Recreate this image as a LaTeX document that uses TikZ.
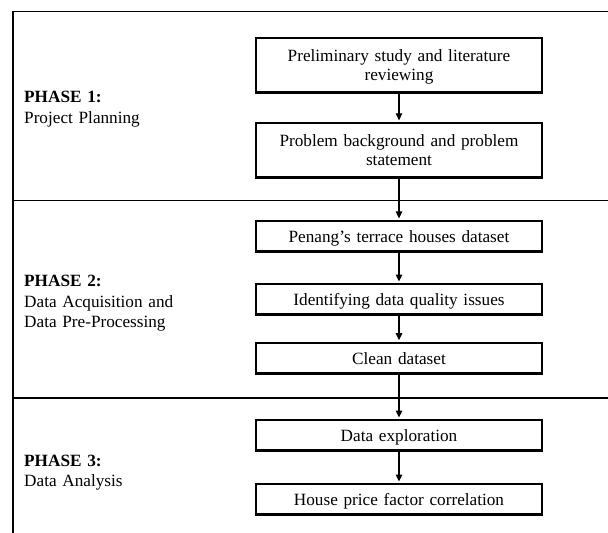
\documentclass[tikz,border=0pt]{standalone}
\usepackage{fontspec}
\setmainfont{Liberation Serif}
\usetikzlibrary{arrows.meta}
\begin{document}
\begin{tikzpicture}[x=1pt,y=-1pt,
  stepbox/.style={draw, line width=2.6pt, minimum width=285.7pt, text width=270pt, align=center, inner sep=0pt, font=\fontsize{17.2}{19.3}\selectfont},
  onebox/.style={stepbox, minimum height=30.4pt, text height=12.6pt, text depth=0pt},
  twobox/.style={stepbox, minimum height=54.7pt, text height=12pt, text depth=19.3pt},
  flow/.style={line width=1.1pt, shorten >=1.3pt, -{Triangle[length=7pt,width=6.5pt]}},
  frameline/.style={line width=1.2pt},
  phase/.style={anchor=base west, inner sep=0pt, text width=220pt, align=left, font=\fontsize{17.2}{20.4}\selectfont}]
\useasboundingbox (0,0) rectangle (608,533);
% frame and separators
\coordinate (tl) at (13,11.7);
\coordinate (tr) at (610,11.7);
\coordinate (bl) at (13,535);
\coordinate (s1l) at (13,200.3);
\coordinate (s1r) at (610,200.3);
\coordinate (s2l) at (13,398.2);
\coordinate (s2r) at (610,398.2);
\draw[frameline] (tr) -- (tl) -- (bl);
\draw[frameline] (s1l) -- (s1r);
\draw[frameline, line width=1.6pt] (s2l) -- (s2r);
% phase labels
\node[phase] (p1) at (24,102.7) {\textbf{PHASE 1:}\\Project Planning};
\node[phase] (p2) at (24,286.7) {\textbf{PHASE 2:}\\Data Acquisition and\\Data Pre-Processing};
\node[phase] (p3) at (24,466) {\textbf{PHASE 3:}\\Data Analysis};
% boxes
\node[twobox] (b1) at (399,65.3) {Preliminary study and literature\\reviewing};
\node[twobox] (b2) at (399,150.3) {Problem background and problem\\statement};
\node[onebox] (b3) at (399,236.2) {Penang’s terrace houses dataset};
\node[onebox] (b4) at (399,299.3) {Identifying data quality issues};
\node[onebox] (b5) at (399,358) {Clean dataset};
\node[onebox] (b6) at (399,435.3) {Data exploration};
\node[onebox] (b7) at (399,499.3) {House price factor correlation};
% arrows
\draw[flow] (b1) -- (b2);
\draw[flow] (b2) -- (b3);
\draw[flow] (b3) -- (b4);
\draw[flow] (b4) -- (b5);
\draw[flow] (b5) -- (b6);
\draw[flow] (b6) -- (b7);
\end{tikzpicture}
\end{document}
